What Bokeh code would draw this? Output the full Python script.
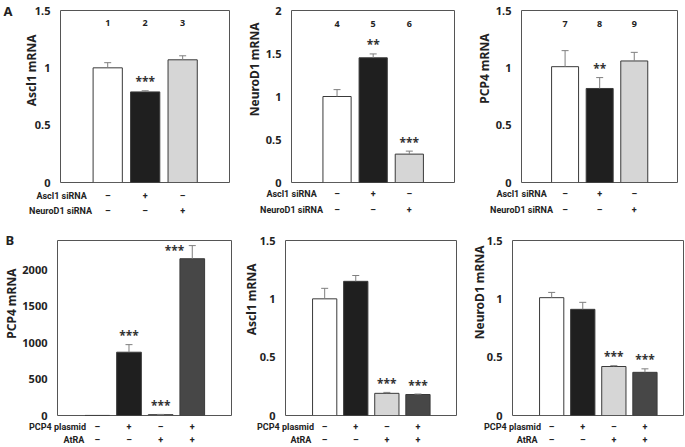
from bokeh.plotting import figure
from bokeh.models import (Range1d, FixedTicker, Label, Whisker, TeeHead, ColumnDataSource,
                          LinearAxis, Title)
from bokeh.layouts import column, row
from bokeh.embed import file_html
from bokeh.resources import INLINE

FONT = "Noto Sans"
TFONT = "Roboto"
TXT = "#222222"

# ---------------- data ----------------
a_x = [1, 2, 3]
a_colors = ["#ffffff", "#1f1f1f", "#d6d6d6"]
a_row_labels = ["Ascl1 siRNA", "NeuroD1 siRNA"]
a_row_signs = [["–", "+", "–"], ["–", "–", "+"]]

a1_ylabel = "Ascl1 mRNA"
a1_numbers = ["1", "2", "3"]
a1_values = [1.00, 0.79, 1.07]
a1_errors = [0.045, 0.01, 0.035]
a1_sig = ["", "***", ""]
a1_ticks = [0, 0.5, 1, 1.5]
a1_tick_labels = ["0", "0.5", "1", "1.5"]

a2_ylabel = "NeuroD1 mRNA"
a2_numbers = ["4", "5", "6"]
a2_values = [1.00, 1.45, 0.33]
a2_errors = [0.08, 0.045, 0.035]
a2_sig = ["", "**", "***"]
a2_ticks = [0, 0.5, 1, 1.5, 2]
a2_tick_labels = ["0", "0.5", "1", "1.5", "2"]

a3_ylabel = "PCP4 mRNA"
a3_numbers = ["7", "8", "9"]
a3_values = [1.01, 0.82, 1.06]
a3_errors = [0.14, 0.095, 0.075]
a3_sig = ["", "**", ""]
a3_ticks = [0, 0.5, 1, 1.5]
a3_tick_labels = ["0", "0.5", "1", "1.5"]

b_x = [1, 2, 3, 4]
b_colors = ["#ffffff", "#1f1f1f", "#d6d6d6", "#474747"]
b_row_labels = ["PCP4 plasmid", "AtRA"]
b_row_signs = [["–", "+", "–", "+"], ["–", "–", "+", "+"]]

b1_ylabel = "PCP4 mRNA"
b1_values = [1, 868, 12, 2150]
b1_errors = [0, 104, 3, 180]
b1_sig = ["", "***", "***", "***"]
b1_ticks = [0, 500, 1000, 1500, 2000]
b1_tick_labels = ["0", "500", "1000", "1500", "2000"]

b2_ylabel = "Ascl1 mRNA"
b2_values = [1.00, 1.15, 0.19, 0.18]
b2_errors = [0.09, 0.05, 0.008, 0.004]
b2_sig = ["", "", "***", "***"]
b2_ticks = [0, 0.5, 1, 1.5]
b2_tick_labels = ["0", "0.5", "1", "1.5"]

b3_ylabel = "NeuroD1 mRNA"
b3_values = [1.01, 0.91, 0.42, 0.37]
b3_errors = [0.045, 0.06, 0.007, 0.03]
b3_sig = ["", "", "***", "***"]
b3_ticks = [0, 0.5, 1, 1.5]
b3_tick_labels = ["0", "0.5", "1", "1.5"]

# approximate advance widths (em) of Roboto Bold, for right-aligning row labels
CW = {"A": .656, "C": .645, "D": .651, "N": .701, "P": .627, "R": .633, "t": .338,
      "a": .538, "c": .521, "d": .552, "e": .525, "i": .258, "l": .258, "m": .871,
      "o": .559, "p": .552, "r": .355, "s": .513, "u": .551, " ": .248}
TSIZE = 9


def text_w(s, size):
    return sum(CW.get(ch, .561) for ch in s) * size


def no_lines(ax):
    ax.axis_line_color = None
    ax.major_tick_line_color = None
    ax.minor_tick_line_color = None
    ax.major_tick_out = 0
    ax.major_tick_in = 0


def panel(width, height, left, right, top, bottom, xs, x_end, values, errors,
          colors, sig, ymax, ticks, tick_labels, ylabel, ylabel_offset, row_labels,
          row_signs, row_right, row_standoffs, numbers=None, letter=None,
          letter_mode=None, letter_arg=0, letter_standoff=0, tick_standoff=10,
          title_standoff=0):
    x_start = -0.26
    fw = width - left - right
    fh = height - top - bottom
    sx = fw / (x_end - x_start)
    sy = fh / ymax

    p = figure(width=width, height=height, x_range=Range1d(x_start, x_end),
               y_range=Range1d(0, ymax), output_backend="svg", toolbar_location=None,
               x_axis_location=None, title=None, min_border_left=left,
               min_border_right=right, min_border_top=top, min_border_bottom=bottom)
    p.grid.visible = False
    p.outline_line_color = "#555555"
    p.outline_line_width = 1
    p.background_fill_color = "white"
    p.border_fill_color = "white"

    ax = p.yaxis[0]
    ax.ticker = FixedTicker(ticks=ticks)
    ax.major_label_overrides = {t: l for t, l in zip(ticks, tick_labels)}
    no_lines(ax)
    ax.major_label_standoff = tick_standoff
    ax.major_label_text_font = FONT
    ax.major_label_text_font_style = "bold"
    ax.major_label_text_font_size = "11px"
    ax.major_label_text_color = TXT

    src = ColumnDataSource(dict(x=xs, top=values, color=colors))
    p.vbar(x="x", top="top", width=0.78, fill_color="color", line_color="#3a3a3a",
           line_width=1, source=src)

    ex = [x for x, e in zip(xs, errors) if e > 0]
    elo = [v for v, e in zip(values, errors) if e > 0]
    ehi = [v + e for v, e in zip(values, errors) if e > 0]
    esrc = ColumnDataSource(dict(x=ex, lower=elo, upper=ehi))
    p.add_layout(Whisker(source=esrc, base="x", lower="lower", upper="upper",
                         dimension="height", line_color="#7f7f7f", line_width=1,
                         lower_head=None,
                         upper_head=TeeHead(size=7, line_color="#7f7f7f", line_width=1),
                         level="overlay"))

    # significance stars
    for x, v, e, s in zip(xs, values, errors, sig):
        if not s:
            continue
        y = v + e + 9 / sy
        xx = x
        if y > ymax - 8 / sy:
            y = v + e - 5 / sy
            xx = x - 18 / sx
        p.add_layout(Label(x=xx, y=y, text=s, text_align="center", text_baseline="middle",
                           text_font=FONT, text_font_style="bold", text_font_size="12px",
                           text_color="#333333"))

    # column numbers
    if numbers:
        for x, n in zip(xs, numbers):
            p.add_layout(Label(x=x, y=ymax - 13 / sy, text=n, text_align="center",
                               text_baseline="middle", text_font=FONT,
                               text_font_style="bold", text_font_size="9px",
                               text_color=TXT))

    # y axis title
    p.add_layout(Title(text=ylabel, align="right", offset=ylabel_offset,
                       standoff=title_standoff, text_font=FONT, text_font_style="bold",
                       text_font_size="12px", text_color=TXT), "left")

    # panel letter
    if letter and letter_mode == "axis":
        lt = ymax - letter_arg / sy
        lax = LinearAxis(ticker=FixedTicker(ticks=[lt]), major_label_overrides={lt: letter})
        no_lines(lax)
        lax.major_label_standoff = letter_standoff
        lax.major_label_text_font = FONT
        lax.major_label_text_font_style = "bold"
        lax.major_label_text_font_size = "13px"
        lax.major_label_text_color = TXT
        p.add_layout(lax, "left")
    elif letter and letter_mode == "title":
        p.add_layout(Title(text=letter, align="left", offset=letter_arg, standoff=-16,
                           text_font=FONT, text_font_style="bold", text_font_size="13px",
                           text_color=TXT), "above")

    # treatment table below the frame (one axis per row)
    for lab, signs, so in zip(row_labels, row_signs, row_standoffs):
        lx = x_start + (row_right - text_w(lab, TSIZE) / 2) / sx
        lx = round(max(lx, x_start + 0.002), 3)
        tks = [lx] + list(xs)
        tls = [lab] + list(signs)
        tax = LinearAxis(ticker=FixedTicker(ticks=tks),
                         major_label_overrides={t: l for t, l in zip(tks, tls)})
        no_lines(tax)
        tax.major_label_standoff = so
        tax.major_label_text_font = TFONT
        tax.major_label_text_font_style = "bold"
        tax.major_label_text_font_size = f"{TSIZE}px"
        tax.major_label_text_color = TXT
        p.add_layout(tax, "below")
    return p


A_END = 4.25
B_END = 5.24

# row_right: right edge of the row label, in px from the frame's left edge
a1 = panel(243, 222, 56, 14, 8, 39, a_x, A_END, a1_values, a1_errors, a_colors,
           a1_sig, 1.5, a1_ticks, a1_tick_labels, a1_ylabel, 24, a_row_labels,
           a_row_signs, 26, (8, 2), numbers=a1_numbers, letter="A", letter_mode="axis",
           letter_arg=0, letter_standoff=16, title_standoff=-16)
a2 = panel(230, 222, 43, 19, 10, 40, a_x, A_END, a2_values, a2_errors, a_colors,
           a2_sig, 2, a2_ticks, a2_tick_labels, a2_ylabel, 12, a_row_labels,
           a_row_signs, 23, (6, 3), numbers=a2_numbers)
a3 = panel(212, 222, 38, 8, 10, 40, a_x, A_END, a3_values, a3_errors, a_colors,
           a3_sig, 1.5, a3_ticks, a3_tick_labels, a3_ylabel, 23, a_row_labels,
           a_row_signs, 24, (6, 3), numbers=a3_numbers)

b1 = panel(243, 225, 54, 12, 18, 31, b_x, B_END, b1_values, b1_errors, b_colors,
           b1_sig, 2400, b1_ticks, b1_tick_labels, b1_ylabel, 28, b_row_labels,
           b_row_signs, 27, (6, 0), letter="B", letter_mode="title", letter_arg=-52)
b2 = panel(229, 225, 38, 16, 18, 31, b_x, B_END, b2_values, b2_errors, b_colors,
           b2_sig, 1.5, b2_ticks, b2_tick_labels, b2_ylabel, 23, b_row_labels,
           b_row_signs, 26, (6, 0), title_standoff=-6)
b3 = panel(213, 225, 39, 2, 18, 31, b_x, B_END, b3_values, b3_errors, b_colors,
           b3_sig, 1.5, b3_ticks, b3_tick_labels, b3_ylabel, 5, b_row_labels,
           b_row_signs, 25, (6, 0), title_standoff=-8)

layout = column(row(a1, a2, a3), row(b1, b2, b3))
open("out.html", "w").write(file_html(layout, INLINE))
